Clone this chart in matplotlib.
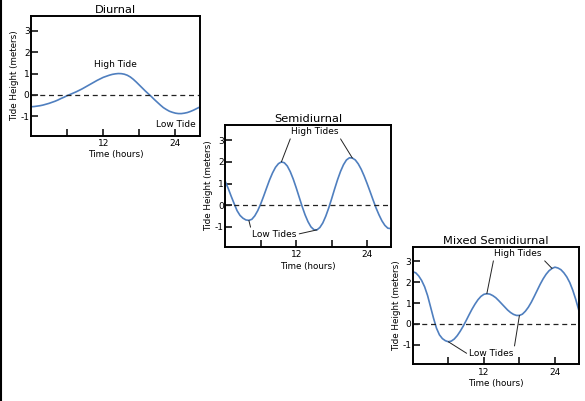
import numpy as np
import matplotlib
matplotlib.use('Agg')
import matplotlib.pyplot as plt
from matplotlib.lines import Line2D

plt.rcParams['font.family'] = 'DejaVu Sans'
plt.rcParams['axes.unicode_minus'] = False

# tide heights (meters) every half hour
hours = np.arange(0, 28.5, 0.5)
diurnal = [-0.56, -0.55, -0.53, -0.51, -0.48, -0.44, -0.40, -0.35, -0.30, -0.24,
           -0.17, -0.11, -0.04, 0.02, 0.08, 0.14, 0.21, 0.28, 0.36, 0.44,
           0.52, 0.60, 0.68, 0.75, 0.82, 0.87, 0.92, 0.96, 0.985, 1.00,
           0.995, 0.97, 0.92, 0.84, 0.73, 0.60, 0.46, 0.32, 0.18, 0.05,
           -0.08, -0.22, -0.35, -0.48, -0.60, -0.69, -0.77, -0.82, -0.86, -0.88,
           -0.88, -0.86, -0.83, -0.78, -0.72, -0.65, -0.58]
semidiurnal = [1.10, 0.78, 0.42, 0.08, -0.25, -0.47, -0.60, -0.68, -0.70, -0.65,
               -0.49, -0.25, 0.06, 0.42, 0.80, 1.17, 1.49, 1.75, 1.92, 2.00,
               1.96, 1.81, 1.55, 1.21, 0.81, 0.38, -0.05, -0.44, -0.76, -1.00,
               -1.13, -1.14, -1.03, -0.82, -0.51, -0.13, 0.30, 0.75, 1.18, 1.56,
               1.87, 2.09, 2.19, 2.18, 2.09, 1.91, 1.66, 1.35, 1.00, 0.63,
               0.25, -0.12, -0.44, -0.72, -0.93, -1.06, -1.08]
mixed = [2.50, 2.45, 2.30, 2.08, 1.78, 1.36, 0.82, 0.28, -0.20, -0.52,
         -0.70, -0.80, -0.85, -0.82, -0.72, -0.56, -0.35, -0.11, 0.16, 0.44,
         0.71, 0.95, 1.16, 1.32, 1.42, 1.45, 1.43, 1.36, 1.26, 1.12,
         0.97, 0.82, 0.67, 0.55, 0.46, 0.41, 0.41, 0.47, 0.61, 0.80,
         1.04, 1.32, 1.61, 1.90, 2.16, 2.38, 2.55, 2.66, 2.72, 2.68,
         2.60, 2.45, 2.25, 1.98, 1.62, 1.18, 0.68]

titles = ['Diurnal', 'Semidiurnal', 'Mixed Semidiurnal']
x_ticks = [6, 12, 18, 24]
x_tick_labels = ['', '12', '', '24']
y_ticks = [-1, 0, 1, 2, 3]

curve_color = '#4f7fbf'
small = 6.5


def setup_panel(ax, title, series):
    ax.plot(hours, series, color=curve_color, lw=1.2)
    ax.axhline(0, color='#222222', lw=0.9, ls=(0, (4, 3)))
    ax.set_xlim(0, 28.1)
    ax.set_ylim(-1.93, 3.7)
    ax.set_xticks(x_ticks)
    ax.set_xticklabels(x_tick_labels)
    ax.set_yticks(y_ticks)
    ax.tick_params(axis='x', direction='in', length=5, width=1.1, pad=2.5, labelsize=small)
    ax.tick_params(axis='y', direction='in', length=5, width=1.1, pad=1, labelsize=small)
    for sp in ax.spines.values():
        sp.set_linewidth(1.4)
    ax.set_title(title, fontsize=8.2, pad=2)
    ax.set_xlabel('Time (hours)', fontsize=6.3, labelpad=1.5)
    ax.set_ylabel('Tide Height (meters)', fontsize=6.3, labelpad=1)


def label_with_lines(ax, text, xytext, targets):
    # one visible label, extra invisible copies only carry the leader lines
    for i, (idx, series, rel) in enumerate(targets):
        ax.annotate(text, xy=(hours[idx], series[idx]), xytext=xytext,
                    ha='center', va='center', fontsize=small,
                    color='black' if i == 0 else 'none',
                    arrowprops=dict(arrowstyle='-', color='#222222', lw=0.7,
                                    relpos=rel, shrinkA=0, shrinkB=0))


fig = plt.figure(figsize=(5.85, 4.01), dpi=100)

ax1 = fig.add_axes([0.053, 0.661, 0.289, 0.299])
ax2 = fig.add_axes([0.385, 0.384, 0.284, 0.304])
ax3 = fig.add_axes([0.7056, 0.0915, 0.2846, 0.2933])

setup_panel(ax1, titles[0], diurnal)
setup_panel(ax2, titles[1], semidiurnal)
setup_panel(ax3, titles[2], mixed)

ax1.text(14.1, 1.44, 'High Tide', ha='center', va='center', fontsize=small)
ax1.text(24.0, -1.4, 'Low Tide', ha='center', va='center', fontsize=small)

label_with_lines(ax2, 'High Tides', (15.2, 3.4),
                 [(19, semidiurnal, (0.0, 0.0)), (43, semidiurnal, (1.0, 0.0))])
label_with_lines(ax2, 'Low Tides', (8.3, -1.35),
                 [(8, semidiurnal, (0.0, 0.6)), (31, semidiurnal, (1.0, 0.5))])

label_with_lines(ax3, 'High Tides', (17.8, 3.37),
                 [(25, mixed, (0.0, 0.3)), (47, mixed, (1.0, 0.0))])
label_with_lines(ax3, 'Low Tides', (13.3, -1.4),
                 [(12, mixed, (0.0, 0.3)), (36, mixed, (1.0, 0.8))])

# thin border on the left edge of the image
fig.add_artist(Line2D([0.002, 0.002], [0, 1], transform=fig.transFigure,
                      color='black', lw=1.5))

fig.savefig('out.png', dpi=100)
